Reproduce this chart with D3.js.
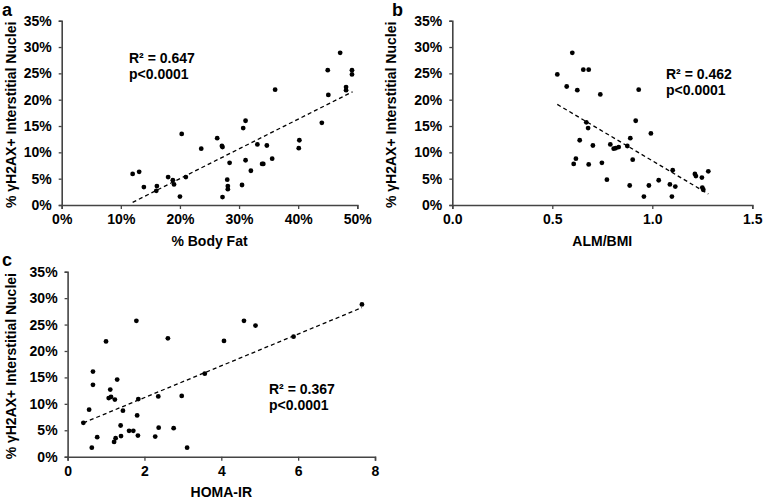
<!DOCTYPE html>
<html><head><meta charset="utf-8">
<script src="https://cdn.jsdelivr.net/npm/d3@7"></script>
<style>
html,body{margin:0;padding:0;background:#fff;}
svg text{font-family:"Liberation Sans",Arial,Helvetica,sans-serif;font-weight:bold;fill:#000;}
</style></head>
<body>
<svg id="chart" width="765" height="501"></svg>
<script>
// ---- Data ----
const yTicks = [0, 5, 10, 15, 20, 25, 30, 35];
const yTitle = "% γH2AX+ Interstitial Nuclei";

// Panel a: % Body Fat vs % γH2AX+
const aXTicks = [0, 10, 20, 30, 40, 50];
const aBodyFat = [12.0,13.1,13.9,16.1,16.0,18.0,18.8,19.0,20.0,20.3,21.0,23.6,26.3,27.1,27.2,27.2,28.0,28.1,28.1,28.4,30.5,30.7,31.1,31.1,32.0,33.1,33.9,34.1,34.7,35.6,36.1,40.1,40.2,44.0,45.0,45.1,47.1,48.1,48.1,49.1,49.1];
const aNuclei  = [5.9,6.3,3.4,3.6,2.7,5.3,4.7,3.9,1.6,13.5,5.3,10.7,12.7,11.2,11.0,1.5,4.8,3.6,3.0,8.0,3.8,14.6,16.0,8.5,6.5,11.5,7.8,7.8,11.3,8.8,21.9,10.8,12.3,15.6,25.6,20.9,28.9,22.4,21.8,25.6,24.8];
const aTrendX = [12.0, 49.2];
const aTrendY = [0.5, 21.5];

// Panel b: ALM/BMI vs % γH2AX+
const bXTicks = [0, 0.5, 1.0, 1.5];
const bAlmBmi = [0.525,0.600,0.572,0.625,0.655,0.682,0.740,0.932,0.670,0.679,0.637,0.618,0.607,0.703,0.682,0.748,0.790,0.807,0.817,0.832,0.773,0.890,0.875,0.902,0.887,0.917,0.958,0.983,0.993,1.032,1.102,1.088,1.115,1.098,1.213,1.218,1.248,1.280,1.250,1.255];
const bNuclei  = [24.8,28.9,22.5,21.8,25.7,25.7,21.0,21.9,15.7,14.6,12.3,8.8,7.8,11.3,7.7,8.0,11.5,10.7,10.8,11.0,4.8,12.7,11.2,8.6,3.7,16.0,1.6,3.7,13.6,4.7,6.6,3.9,3.5,1.6,5.9,5.5,5.2,6.4,3.3,2.9];
const bTrendX = [0.525, 1.28];
const bTrendY = [19.1, 2.1];

// Panel c: HOMA-IR vs % γH2AX+
const cXTicks = [0, 2, 4, 6, 8];
const cHoma   = [1.79,2.61,1.00,0.66,0.66,1.29,1.11,1.07,1.13,1.23,2.36,1.84,0.56,1.44,0.41,1.81,1.38,0.77,0.63,1.25,1.21,1.39,1.60,1.71,1.83,2.28,2.37,4.07,4.59,4.89,5.88,3.57,2.97,2.76,3.11,7.66];
const cNuclei = [25.7,22.4,21.8,16.1,13.6,14.6,12.7,11.1,11.3,10.8,11.4,10.9,8.9,8.7,6.4,7.8,5.9,3.7,1.7,3.5,2.8,3.9,4.9,4.9,4.0,3.8,5.5,21.9,25.7,24.8,22.7,15.7,11.5,5.4,1.7,28.8];
const cTrendX = [0.41, 7.66];
const cTrendY = [6.4, 28.2];

const panelLetters = ["a", "b", "c"];
const xTitles = ["% Body Fat", "ALM/BMI", "HOMA-IR"];
const statsR2 = ["R² = 0.647", "R² = 0.462", "R² = 0.367"];
const statsP = ["p<0.0001", "p<0.0001", "p<0.0001"];

// ---- Layout ----
const panels = [
  {xs:aBodyFat, ys:aNuclei, tx:aTrendX, ty:aTrendY, xt:aXTicks, xfmt:d=>d+"%", xdom:[0,50],
   x0:61.7, x1:357.3, y0:205, y1:20.7, letter:[2,16], ylabX:11, xtitleY:246, stat:[129,63]},
  {xs:bAlmBmi, ys:bNuclei, tx:bTrendX, ty:bTrendY, xt:bXTicks, xfmt:d3.format(".1f"), xdom:[0,1.5],
   x0:452.3, x1:752.3, y0:205, y1:20.7, letter:[392,16], ylabX:391, xtitleY:246, stat:[666,79]},
  {xs:cHoma, ys:cNuclei, tx:cTrendX, ty:cTrendY, xt:cXTicks, xfmt:d3.format("d"), xdom:[0,8],
   x0:67.6, x1:375, y0:456.7, y1:271.7, letter:[2,266], ylabX:11, xtitleY:497, stat:[269,394]}
];

const svg = d3.select("#chart");
const axisColor = "#444";

panels.forEach((p, i) => {
  const x = d3.scaleLinear().domain(p.xdom).range([p.x0, p.x1]);
  const y = d3.scaleLinear().domain([0, 35]).range([p.y0, p.y1]);
  const g = svg.append("g");

  // y axis
  const ya = g.append("g").attr("transform", `translate(${p.x0},0)`)
    .call(d3.axisLeft(y).tickValues(yTicks).tickFormat(d => d + "%").tickSizeOuter(0).tickSize(3).tickPadding(7));
  // x axis
  const xa = g.append("g").attr("transform", `translate(0,${p.y0})`)
    .call(d3.axisBottom(x).tickValues(p.xt).tickFormat(p.xfmt).tickSizeOuter(0).tickSize(4).tickPadding(5));
  [ya, xa].forEach(a => {
    a.select(".domain").attr("stroke", axisColor).attr("stroke-width", 1.6);
    a.selectAll(".tick line").attr("stroke", axisColor).attr("stroke-width", 1.3);
    a.selectAll(".tick text").attr("font-size", 14).attr("fill", "#000")
      .attr("font-family", '"Liberation Sans",Arial,sans-serif').attr("font-weight", "bold");
  });

  // trend line
  g.append("line")
    .attr("x1", x(p.tx[0])).attr("y1", y(p.ty[0]))
    .attr("x2", x(p.tx[1])).attr("y2", y(p.ty[1]))
    .attr("stroke", "#000").attr("stroke-width", 1.3).attr("stroke-dasharray", "4,3");

  // points
  g.selectAll("circle.pt").data(p.xs.map((v, k) => [v, p.ys[k]])).enter()
    .append("circle").attr("class", "pt")
    .attr("cx", d => x(d[0])).attr("cy", d => y(d[1])).attr("r", 2.4).attr("fill", "#000");

  // axis titles
  g.append("text").attr("x", (p.x0 + p.x1) / 2).attr("y", p.xtitleY)
    .attr("text-anchor", "middle").attr("font-size", 14).text(xTitles[i]);
  g.append("text")
    .attr("transform", `translate(${p.ylabX + 5},${(p.y0 + p.y1) / 2 + 2}) rotate(-90)`)
    .attr("text-anchor", "middle").attr("font-size", 14).text(yTitle);

  // panel letter
  g.append("text").attr("x", p.letter[0]).attr("y", p.letter[1]).attr("font-size", 18).text(panelLetters[i]);

  // stats
  g.append("text").attr("x", p.stat[0]).attr("y", p.stat[1]).attr("font-size", 14).text(statsR2[i]);
  g.append("text").attr("x", p.stat[0]).attr("y", p.stat[1] + 16).attr("font-size", 14).text(statsP[i]);
});
</script>
</body></html>
